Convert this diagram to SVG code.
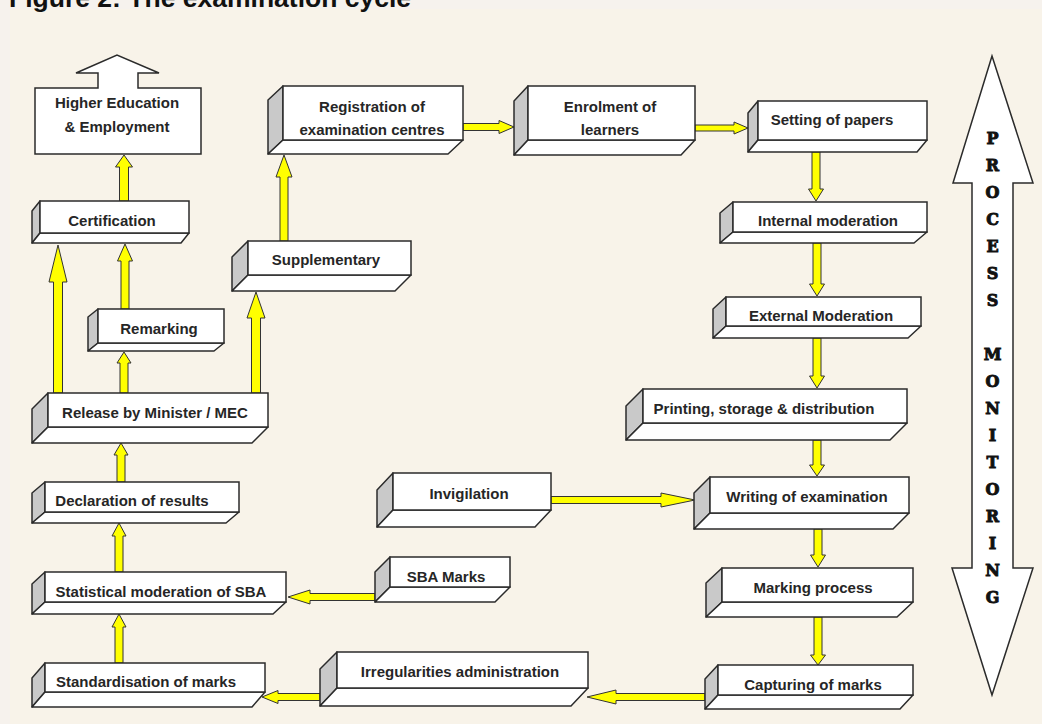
<svg xmlns="http://www.w3.org/2000/svg" width="1042" height="724" viewBox="0 0 1042 724">
<style>
.side{fill:#c9c9c9;stroke:#2b2b2b;stroke-width:1.5;stroke-linejoin:round}
.bot{fill:#ffffff;stroke:#2b2b2b;stroke-width:1.5;stroke-linejoin:round}
.front{fill:#ffffff;stroke:#2b2b2b;stroke-width:1.5}
.lbl{font-family:"Liberation Sans",Arial,sans-serif;font-weight:bold;font-size:15px;fill:#262626;text-anchor:middle}
.arr{fill:#ffff00;stroke:#333333;stroke-width:1;stroke-linejoin:miter}
.pm{font-family:"DejaVu Serif","Liberation Serif",serif;font-weight:bold;font-size:16px;fill:#111111;stroke:#111111;stroke-width:0.9;text-anchor:middle}
</style>
<rect x="0" y="0" width="1042" height="724" fill="#f6f2ed"/>
<rect x="10" y="9" width="1032" height="715" fill="#f8f3e9"/>
<text x="9" y="7" style="font-family:'Liberation Sans',Arial,sans-serif;font-weight:bold;font-size:26.5px;fill:#111111">Figure 2: The examination cycle</text>

<g id="connectors">
<polygon class="arr" points="124,155 132.5,167 128.5,167 128.5,201 119.5,201 119.5,167 115.5,167"/>
<polygon class="arr" points="125,244 132.5,261 129,261 129,309 121,309 121,261 117.5,261"/>
<polygon class="arr" points="58,245 67,282 62.5,282 62.5,393 53.5,393 53.5,282 49,282"/>
<polygon class="arr" points="124,352 131,363 128,363 128,393 120,393 120,363 117,363"/>
<polygon class="arr" points="256,292 265,318 260.5,318 260.5,393 251.5,393 251.5,318 247,318"/>
<polygon class="arr" points="121,443 128,455 125,455 125,482 117,482 117,455 114,455"/>
<polygon class="arr" points="119,523 126,536 123,536 123,572 115,572 115,536 112,536"/>
<polygon class="arr" points="119,614 126,627 123,627 123,663 115,663 115,627 112,627"/>
<polygon class="arr" points="284,155 292,177 288,177 288,241 280,241 280,177 276,177"/>
<polygon class="arr" points="288,597 310,590 310,593.5 375,593.5 375,600.5 310,600.5 310,604"/>
<polygon class="arr" points="262,697 278,690.5 278,693.5 320,693.5 320,700.5 278,700.5 278,703.5"/>
<polygon class="arr" points="587,697 616,690 616,693.5 705,693.5 705,700.5 616,700.5 616,704"/>
<polygon class="arr" points="695,500 661,493 661,496.5 551,496.5 551,503.5 661,503.5 661,507"/>
<polygon class="arr" points="514,127 499,120.5 499,123.5 463,123.5 463,130.5 499,130.5 499,133.5"/>
<polygon class="arr" points="748,128 734,122 734,125 695,125 695,131 734,131 734,134"/>
<polygon class="arr" points="816,201 823.5,189 820,189 820,152 812,152 812,189 808.5,189"/>
<polygon class="arr" points="817,296 824.5,284 821,284 821,243 813,243 813,284 809.5,284"/>
<polygon class="arr" points="817,388 824.5,376 821,376 821,338 813,338 813,376 809.5,376"/>
<polygon class="arr" points="817,476 824.5,465 821,465 821,440 813,440 813,465 809.5,465"/>
<polygon class="arr" points="818,567 825.5,555 822,555 822,529 814,529 814,555 810.5,555"/>
<polygon class="arr" points="818,665 825.5,655 822,655 822,617 814,617 814,655 810.5,655"/>
</g>

<g id="higher-education">
<path d="M35,88 H98 V73 H76 L117,55 L159,73 H138 V88 H201 V154 H35 Z" fill="#ffffff" stroke="#2b2b2b" stroke-width="1.5" stroke-linejoin="miter"/>
<text class="lbl" x="117" y="108">Higher Education</text>
<text class="lbl" x="117" y="132">&amp; Employment</text>
</g>

<g id="certification">
<polygon class="side" points="40,201 32,211 32,243 40,233"/>
<polygon class="bot" points="40,233 189,233 181,243 32,243"/>
<rect class="front" x="40" y="201" width="149" height="32"/>
<text class="lbl" x="112" y="226">Certification</text>
</g>

<g id="remarking">
<polygon class="side" points="98,309 88,317 88,351 98,343"/>
<polygon class="bot" points="98,343 224,343 214,351 88,351"/>
<rect class="front" x="98" y="309" width="126" height="34"/>
<text class="lbl" x="159" y="334">Remarking</text>
</g>

<g id="release">
<polygon class="side" points="48,393 32,409 32,443 48,427"/>
<polygon class="bot" points="48,427 268,427 252,443 32,443"/>
<rect class="front" x="48" y="393" width="220" height="34"/>
<text class="lbl" x="155" y="418">Release by Minister / MEC</text>
</g>

<g id="declaration">
<polygon class="side" points="45,482 32,493 32,523 45,512"/>
<polygon class="bot" points="45,512 239,512 226,523 32,523"/>
<rect class="front" x="45" y="482" width="194" height="30"/>
<text class="lbl" x="132" y="506">Declaration of results</text>
</g>

<g id="statistical-moderation">
<polygon class="side" points="45,572 32,584 32,614 45,602"/>
<polygon class="bot" points="45,602 286,602 273,614 32,614"/>
<rect class="front" x="45" y="572" width="241" height="30"/>
<text class="lbl" x="161" y="597">Statistical moderation of SBA</text>
</g>

<g id="standardisation">
<polygon class="side" points="45,663 32,678 32,707 45,692"/>
<polygon class="bot" points="45,692 265,692 252,707 32,707"/>
<rect class="front" x="45" y="663" width="220" height="29"/>
<text class="lbl" x="146" y="687">Standardisation of marks</text>
</g>

<g id="supplementary">
<polygon class="side" points="248,241 232,257 232,291 248,275"/>
<polygon class="bot" points="248,275 411,275 395,291 232,291"/>
<rect class="front" x="248" y="241" width="163" height="34"/>
<text class="lbl" x="326" y="265">Supplementary</text>
</g>

<g id="registration">
<polygon class="side" points="283,86 268,100 268,154 283,140"/>
<polygon class="bot" points="283,140 463,140 448,154 268,154"/>
<rect class="front" x="283" y="86" width="180" height="54"/>
<text class="lbl" x="372" y="112">Registration of</text>
<text class="lbl" x="372" y="135">examination centres</text>
</g>

<g id="enrolment">
<polygon class="side" points="528,86 514,101 514,155 528,140"/>
<polygon class="bot" points="528,140 695,140 681,155 514,155"/>
<rect class="front" x="528" y="86" width="167" height="54"/>
<text class="lbl" x="610" y="112">Enrolment of</text>
<text class="lbl" x="610" y="135">learners</text>
</g>

<g id="setting">
<polygon class="side" points="758,101 748,113 748,152 758,140"/>
<polygon class="bot" points="758,140 927,140 917,152 748,152"/>
<rect class="front" x="758" y="101" width="169" height="39"/>
<text class="lbl" x="832" y="125">Setting of papers</text>
</g>

<g id="internal-moderation">
<polygon class="side" points="733,202 720,213 720,243 733,232"/>
<polygon class="bot" points="733,232 927,232 914,243 720,243"/>
<rect class="front" x="733" y="202" width="194" height="30"/>
<text class="lbl" x="828" y="226">Internal moderation</text>
</g>

<g id="external-moderation">
<polygon class="side" points="726,297 713,309 713,338 726,326"/>
<polygon class="bot" points="726,326 921,326 908,338 713,338"/>
<rect class="front" x="726" y="297" width="195" height="29"/>
<text class="lbl" x="821" y="321">External Moderation</text>
</g>

<g id="printing">
<polygon class="side" points="643,389 626,406 626,440 643,423"/>
<polygon class="bot" points="643,423 907,423 890,440 626,440"/>
<rect class="front" x="643" y="389" width="264" height="34"/>
<text class="lbl" x="764" y="414">Printing, storage &amp; distribution</text>
</g>

<g id="writing">
<polygon class="side" points="710,477 694,493 694,529 710,513"/>
<polygon class="bot" points="710,513 909,513 893,529 694,529"/>
<rect class="front" x="710" y="477" width="199" height="36"/>
<text class="lbl" x="807" y="502">Writing of examination</text>
</g>

<g id="marking">
<polygon class="side" points="722,568 706,583 706,617 722,602"/>
<polygon class="bot" points="722,602 913,602 897,617 706,617"/>
<rect class="front" x="722" y="568" width="191" height="34"/>
<text class="lbl" x="813" y="593">Marking process</text>
</g>

<g id="capturing">
<polygon class="side" points="718,665 705,679 705,709 718,695"/>
<polygon class="bot" points="718,695 913,695 900,709 705,709"/>
<rect class="front" x="718" y="665" width="195" height="30"/>
<text class="lbl" x="813" y="690">Capturing of marks</text>
</g>

<g id="invigilation">
<polygon class="side" points="393,473 377,490 377,527 393,510"/>
<polygon class="bot" points="393,510 551,510 535,527 377,527"/>
<rect class="front" x="393" y="473" width="158" height="37"/>
<text class="lbl" x="469" y="499">Invigilation</text>
</g>

<g id="sba-marks">
<polygon class="side" points="390,557 375,572 375,602 390,587"/>
<polygon class="bot" points="390,587 510,587 495,602 375,602"/>
<rect class="front" x="390" y="557" width="120" height="30"/>
<text class="lbl" x="446" y="582">SBA Marks</text>
</g>

<g id="irregularities">
<polygon class="side" points="337,652 320,669 320,706 337,688"/>
<polygon class="bot" points="337,688 588,688 571,706 320,706"/>
<rect class="front" x="337" y="652" width="251" height="36"/>
<text class="lbl" x="460" y="677">Irregularities administration</text>
</g>

<g id="process-monitoring">
<path d="M992,56 L1033,183 H1013 V568 H1033 L992,695 L952,568 H972 V183 H953 Z" fill="#ffffff" stroke="#2b2b2b" stroke-width="1.5" stroke-linejoin="miter"/>
<text class="pm" x="992.5" y="144">P</text>
<text class="pm" x="992.5" y="171">R</text>
<text class="pm" x="992.5" y="198">O</text>
<text class="pm" x="992.5" y="225">C</text>
<text class="pm" x="992.5" y="252">E</text>
<text class="pm" x="992.5" y="279">S</text>
<text class="pm" x="992.5" y="306">S</text>
<text class="pm" x="992.5" y="360">M</text>
<text class="pm" x="992.5" y="387">O</text>
<text class="pm" x="992.5" y="414">N</text>
<text class="pm" x="992.5" y="441">I</text>
<text class="pm" x="992.5" y="468">T</text>
<text class="pm" x="992.5" y="495">O</text>
<text class="pm" x="992.5" y="522">R</text>
<text class="pm" x="992.5" y="549">I</text>
<text class="pm" x="992.5" y="576">N</text>
<text class="pm" x="992.5" y="603">G</text>
</g>
</svg>
